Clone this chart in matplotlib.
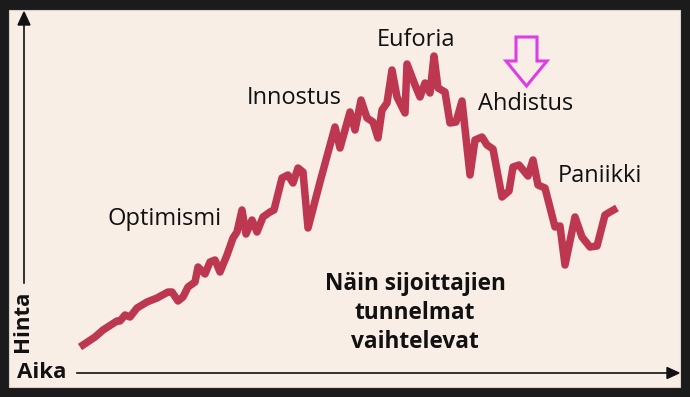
import matplotlib.pyplot as plt
from matplotlib.patches import Rectangle, Polygon

# Aika (time) and hinta (price)
aika = [80, 95, 103, 117, 120, 125, 130, 137, 147, 157, 168, 172, 178, 183, 188,
        195, 198, 205, 210, 215, 220, 227, 233, 237, 242, 246, 252, 257, 263, 270,
        274, 282, 288, 293, 298, 303, 308, 320, 335, 340, 350, 355, 361, 367, 373,
        378, 382, 387, 392, 397, 405, 407, 415, 420, 425, 430, 434, 438, 445, 450,
        456, 462, 470, 475, 482, 487, 493, 502, 509, 513, 519, 528, 533, 538, 545,
        555, 560, 565, 575, 582, 590, 597, 605, 610, 617]
hinta = [50, 60, 67, 76, 76, 82, 80, 89, 95, 99, 105, 105, 96, 100, 110,
         115, 130, 123, 135, 137, 125, 142, 159, 165, 187, 163, 177, 165, 180, 185,
         187, 219, 222, 214, 229, 225, 169, 215, 270, 249, 285, 267, 297, 279, 275,
         259, 287, 294, 327, 300, 284, 333, 312, 300, 314, 304, 341, 309, 305, 274,
         275, 296, 222, 257, 260, 252, 248, 200, 206, 230, 232, 221, 237, 212, 209,
         170, 171, 132, 180, 160, 150, 151, 182, 185, 189]

vaiheet = ["Optimismi", "Innostus", "Euforia", "Ahdistus", "Paniikki"]
vaihe_x = [165, 294, 416, 526, 600]
vaihe_y = [178, 299, 357, 293, 221]
otsikko = "Näin sijoittajien\ntunnelmat\nvaihtelevat"

W, H = 690, 397
fig = plt.figure(figsize=(6.9, 3.97), dpi=100)
fig.patch.set_facecolor("#1b1b1b")
ax = fig.add_axes([0, 0, 1, 1])
ax.set_xlim(0, W)
ax.set_ylim(0, H)
ax.axis("off")

# cream panel
ax.add_patch(Rectangle((9, 10), 671, 377, facecolor="#f8eee6",
                       edgecolor="#d6d0ca", lw=0.8, zorder=0))

# axes arrows
ax.plot([24, 24], [114, 374], color="#111111", lw=1.2)
ax.add_patch(Polygon([[24, 385], [18, 372], [30, 372]], closed=True,
                     color="#111111"))
ax.plot([77, 668], [24, 24], color="#111111", lw=1.2)
ax.add_patch(Polygon([[679, 24], [667, 18.5], [667, 29.5]], closed=True,
                     color="#111111"))

ax.text(22, 76, "Hinta", rotation=90, ha="center", va="center",
        fontsize=16, fontweight="bold", family="Open Sans", color="#111111")
ax.text(17, 25, "Aika", ha="left", va="center", fontsize=16,
        fontweight="bold", family="Open Sans", color="#111111")

# price line
ax.plot(aika, hinta, color="#be3750", lw=5.4, solid_joinstyle="round",
        solid_capstyle="butt", zorder=3)

for t, x, y in zip(vaiheet, vaihe_x, vaihe_y):
    ax.text(x, y, t, ha="center", va="center", fontsize=17,
            family="Open Sans", color="#111111")

ax.text(415, 84, otsikko, ha="center", va="center", fontsize=16.3,
        fontweight="bold", family="Open Sans", color="#111111",
        linespacing=1.27)

# hollow magenta arrow
ax.add_patch(Polygon([[516, 360], [537, 360], [537, 336], [547, 336],
                      [526.5, 311], [506, 336], [516, 336]], closed=True,
                     facecolor="none", edgecolor="#e03ce6", lw=2.2,
                     joinstyle="miter", zorder=4))

fig.savefig("out.png", dpi=100, facecolor=fig.get_facecolor())
